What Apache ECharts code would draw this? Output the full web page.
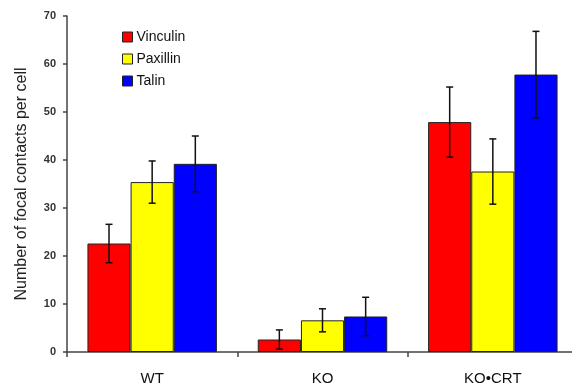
<!DOCTYPE html>
<html><head><meta charset="utf-8">
<script src="https://cdn.jsdelivr.net/npm/echarts@6/dist/echarts.min.js"></script>
<style>html,body{margin:0;padding:0;background:#fff;overflow:hidden;width:572px;height:390px}#c{width:580px;height:390px}</style>
</head><body><div id="c"></div>
<script>
var categories = ['WT', 'KO', 'KO\u2022CRT'];
var seriesNames = ['Vinculin', 'Paxillin', 'Talin'];
var vinculin = [22.6, 2.6, 47.9];
var paxillin = [35.4, 6.6, 37.6];
var talin = [39.2, 7.4, 57.8];
var vinculinErr = [4.0, 2.0, 7.3];
var paxillinErr = [4.4, 2.4, 6.8];
var talinErr = [5.8, 4.0, 9.0];
var yTicks = [0, 10, 20, 30, 40, 50, 60, 70];

var values = [vinculin, paxillin, talin];
var errs = [vinculinErr, paxillinErr, talinErr];
var colors = ['#ff0000', '#ffff00', '#0000ff'];
var gapPct = 0.24;

var chart = echarts.init(document.getElementById('c'));
var series = [];
values.forEach(function (vals, i) {
  series.push({
    name: seriesNames[i], type: 'bar', data: vals,
    barGap: '0%', barCategoryGap: (gapPct * 100) + '%',
    itemStyle: { color: colors[i], borderColor: '#222', borderWidth: 1 },
    emphasis: { disabled: true }, z: 2
  });
});
values.forEach(function (vals, i) {
  series.push({
    type: 'custom', z: 5, silent: true,
    data: vals.map(function (v, j) { return [j, v - errs[i][j], v + errs[i][j]]; }),
    renderItem: function (params, api) {
      var catW = api.size([1, 0])[0];
      var bw = catW * (1 - gapPct) / 3;
      var off = (i - 1) * bw;
      var lo = api.coord([api.value(0), api.value(1)]);
      var hi = api.coord([api.value(0), api.value(2)]);
      var x = lo[0] + off, cap = 3.5;
      var st = { stroke: '#111', lineWidth: 1.5 };
      return { type: 'group', children: [
        { type: 'line', shape: { x1: x, y1: lo[1], x2: x, y2: hi[1] }, style: st },
        { type: 'line', shape: { x1: x - cap, y1: lo[1], x2: x + cap, y2: lo[1] }, style: st },
        { type: 'line', shape: { x1: x - cap, y1: hi[1], x2: x + cap, y2: hi[1] }, style: st }
      ]};
    }
  });
});

chart.setOption({
  animation: false,
  backgroundColor: '#fff',
  grid: { left: 67, right: 2, top: 16, bottom: 38, containLabel: false },
  legend: {
    data: seriesNames, orient: 'vertical', left: 117, top: 25,
    itemWidth: 10, itemHeight: 10, itemGap: 8,
    icon: 'rect',
    itemStyle: { borderColor: '#222', borderWidth: 1 },
    textStyle: { fontFamily: 'Liberation Sans, Arial', fontSize: 14, color: '#111', padding: [0, 0, 0, -1] }
  },
  xAxis: {
    type: 'category', data: categories,
    axisLine: { lineStyle: { color: '#444', width: 1.5 } },
    axisTick: { show: true, length: 5, lineStyle: { color: '#444', width: 1.5 }, alignWithLabel: false },
    axisLabel: { fontFamily: 'Liberation Sans, Arial', fontSize: 15, color: '#111', margin: 19 }
  },
  yAxis: {
    type: 'value', min: yTicks[0], max: yTicks[yTicks.length - 1], interval: 10,
    name: 'Number of focal contacts per cell', nameLocation: 'middle', nameGap: 37,
    nameTextStyle: { fontFamily: 'Liberation Sans, Arial', fontSize: 16, color: '#222' },
    axisLine: { show: true, lineStyle: { color: '#444', width: 1.5 } },
    axisTick: { show: true, length: 4, lineStyle: { color: '#444', width: 1.5 } },
    axisLabel: { fontFamily: 'Liberation Sans, Arial', fontSize: 11, fontWeight: 'bold', color: '#333', margin: 11 },
    splitLine: { show: false }
  },
  series: series
});
</script></body></html>
